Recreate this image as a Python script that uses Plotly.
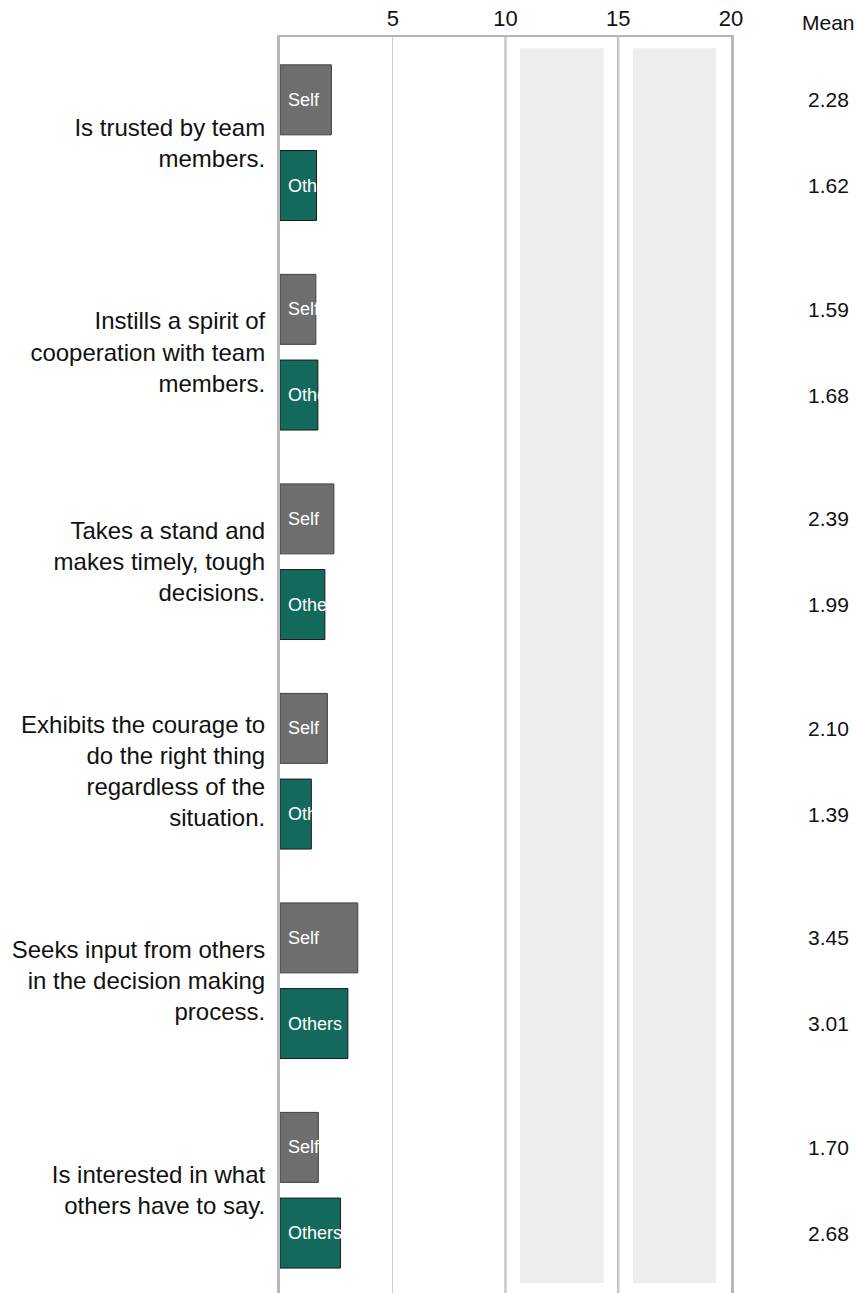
import plotly.graph_objects as go

# ---------------- data ----------------
statements = [
    "Is trusted by team<br>members.",
    "Instills a spirit of<br>cooperation with team<br>members.",
    "Takes a stand and<br>makes timely, tough<br>decisions.",
    "Exhibits the courage to<br>do the right thing<br>regardless of the<br>situation.",
    "Seeks input from others<br>in the decision making<br>process.",
    "Is interested in what<br>others have to say.",
]
series_names = ["Self", "Others"]
self_means = [2.28, 1.59, 2.39, 2.10, 3.45, 1.70]
others_means = [1.62, 1.68, 1.99, 1.39, 3.01, 2.68]
x_ticks = [5, 10, 15, 20]
heavy_grid = [10, 15]
bands = [(10.65, 14.35), (15.65, 19.35)]

# ---------------- layout helpers ----------------
FONT = "Liberation Sans, Arial, sans-serif"
SELF_FILL, SELF_LINE = "#6e6e6e", "#404040"
OTH_FILL, OTH_LINE = "#14695d", "#1a1a1a"
others_offset = 0.409
bar_w = 0.334

n = len(statements)
y_self = [float(i) for i in range(n)]
y_oth = [i + others_offset for i in range(n)]
y_mid = [i + others_offset / 2 for i in range(n)]

fig = go.Figure()
for name, vals, ys, fill, line in [
    (series_names[0], self_means, y_self, SELF_FILL, SELF_LINE),
    (series_names[1], others_means, y_oth, OTH_FILL, OTH_LINE),
]:
    fig.add_trace(go.Bar(
        x=vals, y=ys, orientation="h", name=name, width=bar_w,
        marker=dict(color=fill, line=dict(color=line, width=1)),
        text=["\u00a0" + name] * len(vals),
        textposition="inside", insidetextanchor="start",
        constraintext="none", textangle=0,
        textfont=dict(color="white", size=18, family=FONT),
        cliponaxis=False, showlegend=False, hoverinfo="x+name",
    ))

shapes = []
for x0, x1 in bands:
    shapes.append(dict(type="rect", xref="x", yref="paper", x0=x0, x1=x1,
                       y0=0.008, y1=0.991, fillcolor="#ededed",
                       line=dict(width=0), layer="below"))
for xv in heavy_grid:
    shapes.append(dict(type="line", xref="x", yref="paper", x0=xv, x1=xv,
                       y0=0, y1=1, line=dict(color="#a9a9a9", width=2),
                       layer="between"))

annotations = [dict(xref="paper", yref="paper", x=1.216, y=1.0, yshift=15,
                    text="Mean", showarrow=False, xanchor="center",
                    yanchor="middle", font=dict(size=21, family=FONT, color="#111"))]
for ys, vals in [(y_self, self_means), (y_oth, others_means)]:
    for yv, v in zip(ys, vals):
        annotations.append(dict(xref="paper", yref="y", x=1.216, y=yv,
                                text=f"{v:.2f}", showarrow=False,
                                xanchor="center", yanchor="middle",
                                font=dict(size=21, family=FONT, color="#111")))

fig.update_layout(
    width=856, height=1293,
    margin=dict(l=280, r=125, t=37, b=0, pad=0),
    paper_bgcolor="white", plot_bgcolor="white",
    barmode="overlay",
    shapes=shapes, annotations=annotations,
    font=dict(family=FONT, color="#111"),
    xaxis=dict(side="top", range=[0, 20], tickmode="array", tickvals=x_ticks,
               ticktext=[str(t) for t in x_ticks],
               tickfont=dict(size=22, family=FONT, color="#111"),
               showgrid=True, gridcolor="#cccccc", gridwidth=1,
               showline=True, linecolor="#b4b4b4", linewidth=2,
               zeroline=False, ticks="", fixedrange=True),
    yaxis=dict(range=[5.695, -0.3], tickmode="array", tickvals=y_mid,
               ticktext=statements,
               tickfont=dict(size=24, family=FONT, color="#111"),
               showgrid=False, zeroline=False,
               showline=True, linecolor="#b8b8b8", linewidth=3, mirror=True,
               ticks="", ticklabelstandoff=7, fixedrange=True),
)

fig.write_html("out.html")
